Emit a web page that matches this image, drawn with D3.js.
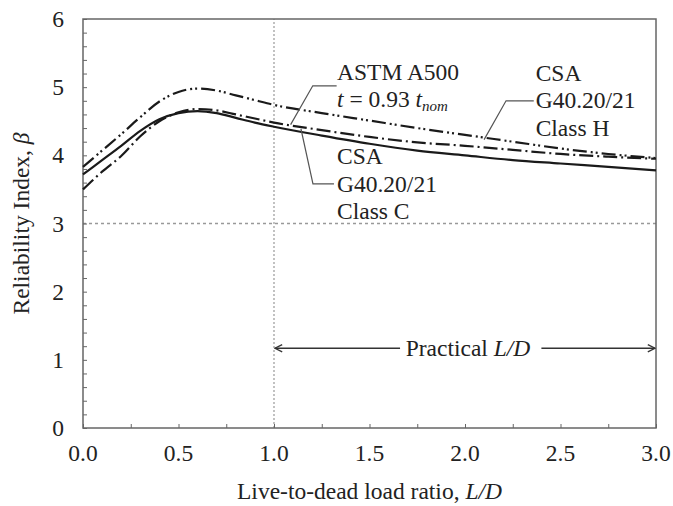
<!DOCTYPE html>
<html>
<head>
<meta charset="utf-8">
<script src="https://cdn.jsdelivr.net/npm/d3@7"></script>
<style>
  body { margin: 0; background: #fff; }
  svg text { font-family: "Liberation Serif", "Times New Roman", serif; fill: #222; }
</style>
</head>
<body>
<div id="chart"></div>
<script>
// live-to-dead load ratio sample points
const ratio = [0, 0.1, 0.2, 0.3, 0.4, 0.5, 0.6, 0.7, 0.8, 0.9, 1.0, 1.25, 1.5, 1.75, 2.0, 2.25, 2.5, 2.75, 3.0];
// reliability index values
const astmA500 = [3.72, 3.93, 4.14, 4.36, 4.53, 4.62, 4.65, 4.62, 4.55, 4.48, 4.42, 4.29, 4.17, 4.07, 4.00, 3.93, 3.88, 3.83, 3.78];
const csaClassC = [3.50, 3.76, 3.99, 4.28, 4.50, 4.63, 4.68, 4.66, 4.60, 4.54, 4.48, 4.37, 4.27, 4.19, 4.14, 4.08, 4.02, 3.98, 3.95];
const csaClassH = [3.83, 4.07, 4.31, 4.56, 4.79, 4.93, 4.98, 4.95, 4.88, 4.81, 4.74, 4.62, 4.51, 4.40, 4.30, 4.20, 4.10, 4.02, 3.96];
const xTicks = [0, 0.5, 1.0, 1.5, 2.0, 2.5, 3.0];
const yTicks = [0, 1, 2, 3, 4, 5, 6];
const targetBeta = 3.0;
const practicalRange = [1.0, 3.0];

const width = 673, height = 506;
const margin = {top: 19, right: 17, bottom: 78, left: 83};
const fs = 23.5;

const svg = d3.select("#chart").append("svg")
    .attr("width", width)
    .attr("height", height);

const x = d3.scaleLinear().domain([0, 3]).range([margin.left, width - margin.right]);
const y = d3.scaleLinear().domain([0, 6]).range([height - margin.bottom, margin.top]);

// reference lines (target beta and L/D = 1)
svg.append("line")
    .attr("x1", x(0)).attr("x2", x(3))
    .attr("y1", y(targetBeta)).attr("y2", y(targetBeta))
    .attr("stroke", "#999").attr("stroke-width", 1.6).attr("stroke-dasharray", "3,3");
svg.append("line")
    .attr("x1", x(practicalRange[0])).attr("x2", x(practicalRange[0]))
    .attr("y1", y(0)).attr("y2", y(6))
    .attr("stroke", "#999").attr("stroke-width", 1.2).attr("stroke-dasharray", "2,2");

// axes with inward ticks
const minorY = d3.range(0, 6.001, 0.2).map(v => +v.toFixed(1));
const minorX = d3.range(0, 3.001, 0.25);

svg.append("g")
    .attr("transform", `translate(${margin.left},0)`)
    .call(d3.axisLeft(y).tickValues(minorY).tickSize(-4).tickFormat(""))
    .call(g => g.selectAll("line, path").attr("stroke", "#666"))
    .call(g => g.select(".domain").remove());
svg.append("g")
    .attr("transform", `translate(0,${height - margin.bottom})`)
    .call(d3.axisBottom(x).tickValues(minorX).tickSize(-4).tickFormat(""))
    .call(g => g.selectAll("line, path").attr("stroke", "#666"))
    .call(g => g.select(".domain").remove());

// frame
svg.append("rect")
    .attr("x", x(0)).attr("y", y(6))
    .attr("width", x(3) - x(0)).attr("height", y(0) - y(6))
    .attr("fill", "none").attr("stroke", "#666").attr("stroke-width", 1.5);

// tick labels
svg.append("g").selectAll("text")
    .data(yTicks).join("text")
    .attr("x", margin.left - 19)
    .attr("y", d => y(d) + 8)
    .attr("text-anchor", "end")
    .attr("font-size", fs)
    .text(d => d);
svg.append("g").selectAll("text")
    .data(xTicks).join("text")
    .attr("x", d => x(d))
    .attr("y", y(0) + 33)
    .attr("text-anchor", "middle")
    .attr("font-size", fs)
    .text(d => d3.format(".1f")(d));

// axis titles
const xt = svg.append("text")
    .attr("x", (x(0) + x(3)) / 2)
    .attr("y", 499)
    .attr("text-anchor", "middle")
    .attr("font-size", fs);
xt.append("tspan").text("Live-to-dead load ratio, ");
xt.append("tspan").attr("font-style", "italic").text("L/D");

const yt = svg.append("text")
    .attr("transform", `translate(29,${(y(0) + y(6)) / 2}) rotate(-90)`)
    .attr("text-anchor", "middle")
    .attr("font-size", fs);
yt.append("tspan").text("Reliability Index, ");
yt.append("tspan").attr("font-style", "italic").text("β");

// curves
const line = d3.line()
    .curve(d3.curveMonotoneX)
    .x((d, i) => x(ratio[i]))
    .y(d => y(d));

const series = [
  {values: csaClassH, dash: "14,4,2,3,2,4"},
  {values: csaClassC, dash: "14,4,2,4"},
  {values: astmA500, dash: null}
];
svg.append("g").selectAll("path")
    .data(series).join("path")
    .attr("d", d => line(d.values))
    .attr("fill", "none")
    .attr("stroke", "#1a1a1a")
    .attr("stroke-width", 2.2)
    .attr("stroke-dasharray", d => d.dash);

// leader lines
const leaders = [
  [[1.328, 5.02], [1.203, 5.02], [1.087, 4.45]],
  [[1.141, 4.39], [1.204, 3.58], [1.314, 3.58]],
  [[2.36, 4.80], [2.215, 4.80], [2.10, 4.23]]
];
svg.append("g").selectAll("path")
    .data(leaders).join("path")
    .attr("d", d3.line().x(d => x(d[0])).y(d => y(d[1])))
    .attr("fill", "none")
    .attr("stroke", "#555")
    .attr("stroke-width", 1.2);

// annotation labels
function label(lx, ly, parts) {
  const t = svg.append("text")
      .attr("x", x(lx)).attr("y", y(ly))
      .attr("font-size", fs);
  parts.forEach(p => {
    const s = t.append("tspan").text(p.t);
    if (p.i) s.attr("font-style", "italic");
    if (p.sub) s.attr("font-size", 15).attr("dy", 4);
  });
}
label(1.33, 5.11, [{t: "ASTM A500"}]);
label(1.33, 4.71, [{t: "t", i: true}, {t: " = 0.93 "}, {t: "t", i: true}, {t: "nom", i: true, sub: true}]);
label(1.33, 3.87, [{t: "CSA"}]);
label(1.33, 3.46, [{t: "G40.20/21"}]);
label(1.33, 3.06, [{t: "Class C"}]);
label(2.37, 5.09, [{t: "CSA"}]);
label(2.37, 4.69, [{t: "G40.20/21"}]);
label(2.37, 4.29, [{t: "Class H"}]);

// practical L/D range arrow
const arrowY = 1.17;
const pt = svg.append("text")
    .attr("x", (x(practicalRange[0]) + x(practicalRange[1])) / 2 + 3)
    .attr("y", y(arrowY) + 8)
    .attr("text-anchor", "middle")
    .attr("font-size", fs);
pt.append("tspan").text("Practical ");
pt.append("tspan").attr("font-style", "italic").text("L/D");

const defs = svg.append("defs");
defs.append("marker")
    .attr("id", "arr")
    .attr("viewBox", "0 0 10 10")
    .attr("refX", 9).attr("refY", 5)
    .attr("markerWidth", 9).attr("markerHeight", 9)
    .attr("markerUnits", "userSpaceOnUse")
    .attr("orient", "auto")
  .append("path")
    .attr("d", "M1,1 L9,5 L1,9")
    .attr("fill", "none").attr("stroke", "#333").attr("stroke-width", 1.5);

svg.append("line")
    .attr("x1", x(1.66)).attr("x2", x(practicalRange[0]) + 1)
    .attr("y1", y(arrowY)).attr("y2", y(arrowY))
    .attr("stroke", "#333").attr("stroke-width", 1.5)
    .attr("marker-end", "url(#arr)");
svg.append("line")
    .attr("x1", x(2.4)).attr("x2", x(practicalRange[1]) - 1)
    .attr("y1", y(arrowY)).attr("y2", y(arrowY))
    .attr("stroke", "#333").attr("stroke-width", 1.5)
    .attr("marker-end", "url(#arr)");
</script>
</body>
</html>
